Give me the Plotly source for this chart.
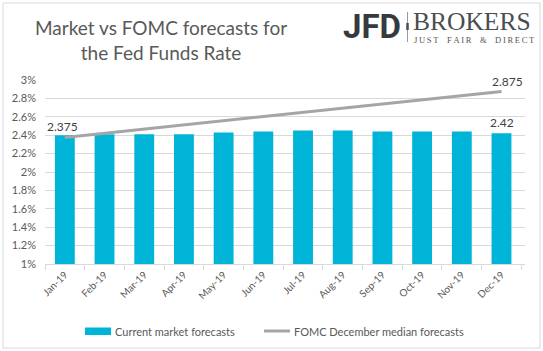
import plotly.graph_objects as go

months = ["Jan-19", "Feb-19", "Mar-19", "Apr-19", "May-19", "Jun-19",
          "Jul-19", "Aug-19", "Sep-19", "Oct-19", "Nov-19", "Dec-19"]
market = [2.40, 2.41, 2.41, 2.41, 2.43, 2.44, 2.45, 2.45, 2.44, 2.44, 2.44, 2.42]
fomc = [2.375, 2.42, 2.466, 2.511, 2.557, 2.602, 2.648, 2.693, 2.739, 2.784, 2.830, 2.875]
ytickvals = [1, 1.2, 1.4, 1.6, 1.8, 2, 2.2, 2.4, 2.6, 2.8, 3]
yticktext = ["1%", "1.2%", "1.4%", "1.6%", "1.8%", "2%", "2.2%", "2.4%", "2.6%", "2.8%", "3%"]

FONT = "Lato"
GREY = "#595959"
BLUE = "#00B4D8"
LGREY = "#A5A5A5"

W, H = 543, 351
L, R, T, B = 45, 18, 80, 87
PW, PH = W - L - R, H - T - B


def px(x):
    return (x - L) / PW


def py(y):
    return (H - B - y) / PH


fig = go.Figure()
fig.add_trace(go.Bar(
    x=months, y=market, name="Current market forecasts",
    marker=dict(color=BLUE, line=dict(width=0)), showlegend=False,
))
fig.add_trace(go.Scatter(
    x=months, y=fomc, name="FOMC December median forecasts",
    mode="lines", line=dict(color=LGREY, width=3), showlegend=False,
))

lab_font = dict(family=FONT, size=12, color="#404040")
tagline = ("\u2009".join(list("JUST")) + "\u2003" + "\u2009".join(list("FAIR")) + "\u2003&\u2003"
           + "\u2009".join(list("DIRECT")))
annotations = [
    dict(x=months[0], y=fomc[0], text=f"{fomc[0]:.3f}", xref="x", yref="y",
         showarrow=False, yanchor="bottom", yshift=2, xshift=-2, font=lab_font),
    dict(x=months[-1], y=fomc[-1], text=f"{fomc[-1]:.3f}", xref="x", yref="y",
         showarrow=False, yanchor="bottom", yshift=1, xshift=6, font=lab_font),
    dict(x=months[-1], y=market[-1], text=f"{market[-1]:.2f}", xref="x", yref="y",
         showarrow=False, yanchor="bottom", yshift=1, font=lab_font),
    dict(text="Market vs FOMC forecasts for<br>the Fed Funds Rate", xref="paper", yref="paper",
         x=px(161), y=py(40), xanchor="center", yanchor="middle", showarrow=False,
         font=dict(family=FONT, size=19, color=GREY), align="center"),
    dict(text="<b>JFD</b>", xref="paper", yref="paper", x=px(341), y=py(26),
         xanchor="left", yanchor="middle", showarrow=False,
         font=dict(family="Roboto", size=33, color="#353a40")),
    dict(text="BROKERS", xref="paper", yref="paper", x=px(411), y=py(21.5),
         xanchor="left", yanchor="middle", showarrow=False,
         font=dict(family="Liberation Serif", size=25.5, color="#4a4d52")),
    dict(text=tagline,
         xref="paper", yref="paper", x=px(412), y=py(40),
         xanchor="left", yanchor="middle", showarrow=False,
         font=dict(family="Liberation Serif", size=8.5, color="#555555")),
    dict(text="Current market forecasts", xref="paper", yref="paper", x=px(113), y=py(331),
         xanchor="left", yanchor="middle", showarrow=False,
         font=dict(family=FONT, size=11, color=GREY)),
    dict(text="FOMC December median forecasts", xref="paper", yref="paper", x=px(292), y=py(331),
         xanchor="left", yanchor="middle", showarrow=False,
         font=dict(family=FONT, size=11, color=GREY)),
]

shapes = [
    dict(type="rect", xref="paper", yref="paper", x0=px(3), x1=px(540), y0=py(348), y1=py(3),
         line=dict(color="#D9D9D9", width=1)),
    dict(type="line", xref="paper", yref="paper", x0=px(407.5), x1=px(407.5), y0=py(42), y1=py(12),
         line=dict(color="#9a9a9a", width=1)),
    dict(type="line", xref="paper", yref="paper", x0=px(407.5), x1=px(407.5), y0=py(30), y1=py(23),
         line=dict(color="#4a4d52", width=2.5)),
    dict(type="rect", xref="paper", yref="paper", x0=px(85), x1=px(111), y0=py(335), y1=py(327.5),
         fillcolor=BLUE, line=dict(width=0)),
    dict(type="line", xref="paper", yref="paper", x0=px(264), x1=px(290), y0=py(331), y1=py(331),
         line=dict(color=LGREY, width=3)),
]

fig.update_layout(
    width=W, height=H,
    margin=dict(l=L, r=R, t=T, b=B, autoexpand=False),
    paper_bgcolor="white", plot_bgcolor="white",
    font=dict(family=FONT, color=GREY),
    bargap=0.5,
    showlegend=False,
    xaxis=dict(
        type="category", tickangle=-45, tickfont=dict(family=FONT, size=10, color=GREY),
        showline=True, linecolor="#D9D9D9", linewidth=1,
        ticks="outside", tickson="boundaries", ticklen=5, tickcolor="#D9D9D9",
        showgrid=False, automargin=False,
    ),
    yaxis=dict(
        range=[1, 3], tickvals=ytickvals, ticktext=yticktext,
        tickfont=dict(family=FONT, size=11, color=GREY),
        showgrid=True, gridcolor="#D9D9D9", gridwidth=1,
        zeroline=False, showline=False, ticks="", ticklabelstandoff=8, automargin=False,
    ),
    shapes=shapes,
    annotations=annotations,
)

fig.write_html("out.html")
